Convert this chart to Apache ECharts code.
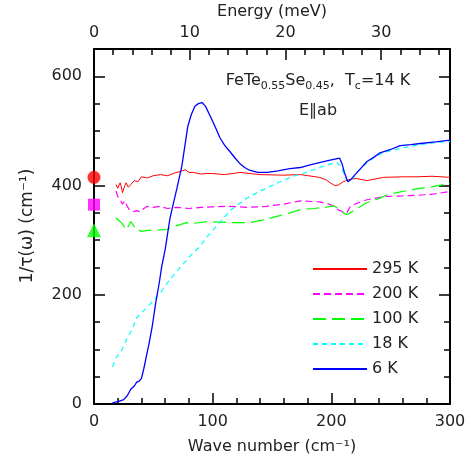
<!DOCTYPE html>
<html>
<head>
<meta charset="utf-8">
<script src="https://cdn.jsdelivr.net/npm/echarts@6/dist/echarts.min.js"></script>
<style>
  html, body { margin: 0; padding: 0; background: #fff; }
  #chart { width: 471px; height: 465px; }
</style>
</head>
<body>
<div id="chart"></div>
<script>
// wave number (cm-1) / scattering rate (cm-1)
const wn295 = [18.5, 20, 22, 23, 24, 26, 27, 29, 31, 34, 37, 40, 45, 50, 56, 62, 68, 73, 77, 80, 84, 90, 95, 100, 110, 123, 140, 160, 174, 190, 196, 199, 203, 206, 210, 215, 221, 230, 244, 260, 272, 285, 300]
const r295 = [402, 395, 405, 398, 387, 400, 405, 397, 402, 409, 407, 416, 414, 418, 420, 418, 423, 426, 429, 424, 424, 421, 422, 422, 420, 424, 420, 419, 420, 415, 410, 405, 400, 401, 407, 411, 413, 409, 415, 416, 416, 417, 415]

const wn200 = [18.5, 20, 22, 24, 26, 28, 30, 33, 36, 39, 42, 45, 50, 55, 62, 70, 80, 90, 100, 115, 130, 145, 160, 174, 190, 198, 202, 206, 210, 213, 216, 222, 230, 240, 247, 260, 272, 285, 300]
const r200 = [390, 380, 374, 366, 372, 362, 355, 352, 354, 352, 358, 362, 360, 362, 358, 360, 358, 360, 361, 362, 360, 362, 366, 372, 370, 366, 362, 355, 352, 350, 362, 368, 374, 378, 380, 381, 382, 384, 389]

const wn100 = [18.5, 21, 23, 25, 27, 29, 31, 33, 35, 38, 40, 45, 50, 56, 62, 67, 72, 78, 85, 95, 105, 115, 131, 145, 155, 165, 174, 185, 195, 202, 207, 210, 213, 216, 220, 225, 230, 240, 247, 255, 262, 272, 285, 300]
const r100 = [341, 336, 332, 326, 319, 326, 334, 328, 319, 318, 316, 318, 318, 319, 320, 325, 328, 332, 331, 334, 333, 332, 332, 338, 344, 350, 356, 358, 360, 363, 356, 350, 347, 350, 356, 362, 369, 376, 383, 387, 390, 394, 398, 404]

const wn18 = [15.5, 19, 23.5, 28, 32, 36, 42, 49, 56, 64, 73, 82, 89, 96, 103, 115, 131, 145, 155, 168, 180, 190, 200, 205, 208, 211, 214, 218, 222, 230, 238, 247, 258, 275, 290, 300]
const r18 = [68, 86, 99, 121, 136, 158, 171, 187, 204, 228, 251, 273, 288, 308, 325, 355, 380, 395, 405, 417, 425, 433, 440, 442, 435, 420, 407, 413, 425, 442, 455, 462, 468, 475, 479, 481]

const wn6 = [15.5, 21, 25, 28, 31, 34, 36, 38, 40, 42, 44, 46.5, 49, 52, 55, 57, 60, 64, 70, 74, 79, 82, 85, 88, 91, 94, 98, 102, 106, 110, 115, 119, 123, 127, 131, 138, 146, 155, 165, 174, 182, 190, 198, 204, 207, 209, 211, 213, 214, 216, 220, 225, 230, 236, 241, 250, 258, 267, 275, 288, 300]
const r6 = [2, 5, 8, 15, 27, 33, 40, 42, 47, 65, 86, 112, 141, 185, 222, 251, 283, 340, 396, 435, 508, 530, 545, 550, 552, 545, 527, 508, 488, 474, 461, 450, 440, 433, 428, 424, 424, 427, 431, 433, 438, 442, 446, 449, 450, 440, 424, 412, 407, 410, 420, 432, 444, 452, 460, 466, 473, 475, 477, 480, 483]

// dc values (omega -> 0) plotted as symbols at x = 0
const dcLabels = ['295 K', '200 K', '100 K']
const dcValues = [415, 365, 318]

const seriesNames = ['295 K', '200 K', '100 K', '18 K', '6 K']

const CM_PER_MEV = 8.06554
const FONT = 'DejaVu Sans'
const TXT = '#222'

const chart = echarts.init(document.getElementById('chart'))

function pairs(xs, ys) {
  return xs.map((x, i) => [x, ys[i]])
}

function lineSeries(name, xs, ys, color, type, width) {
  return {
    name,
    type: 'line',
    symbol: 'none',
    lineStyle: { color, width: width || 1, type: type || 'solid' },
    itemStyle: { color },
    data: pairs(xs, ys),
  }
}

function dcPoint(idx, symbol, color, size) {
  return {
    name: 'dc ' + dcLabels[idx],
    type: 'scatter',
    symbol,
    symbolSize: size,
    clip: false,
    itemStyle: { color },
    z: 5,
    data: [[0, dcValues[idx]]],
  }
}

function axisBits(minorSplit) {
  return {
    axisLine: { show: true, onZero: false, lineStyle: { color: '#000', width: 2 } },
    axisTick: { show: true, inside: true, length: 11, lineStyle: { color: '#000', width: 1.5 } },
    minorTick: { show: true, splitNumber: minorSplit, length: 6, lineStyle: { color: '#000', width: 1.5 } },
    splitLine: { show: false },
    minorSplitLine: { show: false },
  }
}

// axis titles as plain text (names on the axes themselves hid the ticks here)
function axisTitle(text, x, y, rotation, size) {
  return {
    type: 'text',
    x,
    y,
    rotation: rotation || 0,
    style: { text, align: 'center', verticalAlign: 'middle', font: (size || 16) + 'px ' + FONT, fill: TXT },
  }
}

const option = {
  animation: false,
  grid: { left: 94, right: 21, top: 49, bottom: 61 },
  legend: {
    data: seriesNames,
    orient: 'vertical',
    left: 307,
    top: 256,
    itemWidth: 54,
    itemHeight: 14,
    itemGap: 9,
    itemStyle: { opacity: 0 },
    textStyle: { fontFamily: FONT, fontSize: 16, color: TXT },
  },
  graphic: [
    {
      type: 'text',
      x: 318,
      y: 81,
      style: {
        text: '{n|FeTe}{s|0.55}{n|Se}{s|0.45}{n|,  T}{s|c}{n|=14 K}',
        align: 'center',
        verticalAlign: 'middle',
        rich: {
          n: { fontFamily: FONT, fontSize: 16, fill: TXT, lineHeight: 22 },
          s: { fontFamily: FONT, fontSize: 11, fill: TXT, lineHeight: 12, verticalAlign: 'bottom' },
        },
      },
    },
    axisTitle('E∥ab', 318, 111),
    axisTitle('Wave number (cm⁻¹)', 272, 447),
    axisTitle('Energy (meV)', 272, 12),
    axisTitle('1/τ(ω) (cm⁻¹)', 28, 226, Math.PI / 2, 17),
  ],
  xAxis: [
    Object.assign({
      type: 'value', position: 'bottom', min: 0, max: 300, interval: 100,
      axisLabel: { fontFamily: FONT, fontSize: 16, color: TXT, margin: 10 },
    }, axisBits(5)),
    Object.assign({
      type: 'value', position: 'top', min: 0, max: 300 / CM_PER_MEV, interval: 10,
      axisLabel: {
        fontFamily: FONT, fontSize: 16, color: TXT, margin: 8,
        formatter: (v) => (Math.abs(v % 10) < 1e-6 ? String(v) : ''),
      },
    }, axisBits(5)),
  ],
  yAxis: [
    Object.assign({
      type: 'value', position: 'left', min: 0, max: 650, interval: 200,
      axisLabel: {
        fontFamily: FONT, fontSize: 16, color: TXT, margin: 12,
        formatter: (v) => (v % 200 === 0 ? String(v) : ''),
      },
    }, axisBits(4)),
    Object.assign({
      type: 'value', position: 'right', min: 0, max: 650, interval: 200,
      axisLabel: { show: false },
    }, axisBits(4)),
  ],
  series: [
    lineSeries('295 K', wn295, r295, '#ff0000', 'solid', 1),
    lineSeries('200 K', wn200, r200, '#ff00ff', [7, 4], 1.2),
    lineSeries('100 K', wn100, r100, '#00ff00', [13, 6], 1.2),
    lineSeries('18 K', wn18, r18, '#00ffff', [5, 4], 1.2),
    lineSeries('6 K', wn6, r6, '#0000ff', 'solid', 1.3),
    dcPoint(0, 'circle', '#ff0000', 13),
    dcPoint(1, 'rect', '#ff00ff', 12),
    dcPoint(2, 'triangle', '#00ff00', 14),
  ],
}

chart.setOption(option)
</script>
</body>
</html>
